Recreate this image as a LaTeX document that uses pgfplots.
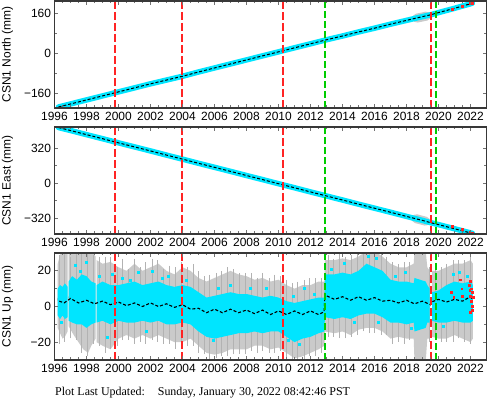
\documentclass[border=0pt]{standalone}
\usepackage{fontspec}
\setmainfont{Liberation Sans}
\newfontfamily\footfont{Liberation Serif}
\usepackage{pgfplots}
\pgfplotsset{compat=1.18}

\definecolor{ptcyan}{RGB}{0,229,255}
\definecolor{bargray}{RGB}{202,202,202}
\definecolor{bardark}{RGB}{178,178,178}
\definecolor{vred}{RGB}{255,36,36}
\definecolor{vgreen}{RGB}{0,204,0}
\definecolor{frame}{RGB}{56,56,56}

\pgfplotsset{
  gpsax/.style={
    scale only axis, width=432bp, height=107bp,
    xmin=1996, xmax=2023,
    xtick={1996,1998,...,2022}, minor x tick num=3,
    minor y tick num=1,
    tick align=inside, axis on top, clip marker paths=true,
    major tick length=4bp, minor tick length=2.5bp,
    axis line style={frame, line width=1.8bp},
    tick style={black!55, line width=0.7bp},
    tick label style={font=\fontsize{12}{14}\selectfont, /pgf/number format/assume math mode=true},
    xticklabel style={/pgf/number format/1000 sep={}, yshift=-1bp},
    y label style={at={(axis description cs:-0.109,0.5)}, anchor=center, font=\fontsize{12}{14}\selectfont},
  },
  redv/.style={vred, line width=1.8bp, dash pattern=on 8bp off 3bp},
  greenv/.style={vgreen, line width=1.7bp, dash pattern=on 7bp off 3bp},
  model/.style={black, line width=1bp, dash pattern=on 3bp off 2bp},
  redpt/.style={only marks, mark=square*, mark size=0.9bp, vred},
}

% event lines (earthquakes red, equipment changes green)
\newcommand{\eventlines}[2]{%
  \addplot[redv] coordinates {(1999.79,#2) (1999.79,#1)};
  \addplot[redv] coordinates {(2003.98,#2) (2003.98,#1)};
  \addplot[redv] coordinates {(2010.26,#2) (2010.26,#1)};
  \addplot[greenv] coordinates {(2012.89,#2) (2012.89,#1)};
  \addplot[redv] coordinates {(2019.51,#2) (2019.51,#1)};
  \addplot[greenv] coordinates {(2019.83,#2) (2019.83,#1)};
}

\begin{document}
\begin{tikzpicture}
\useasboundingbox (0,0) rectangle (488bp,400bp);

% ---------------- North ----------------
\begin{axis}[gpsax, at={(54.5bp,292bp)}, anchor=south west,
  ymin=-217, ymax=208, ytick={-160,0,160}, yticklabels={−160,0,160},
  ylabel={CSN1 North (mm)}]
  \addplot[bargray, line width=9bp, line cap=round] coordinates {(2018.65,140) (2019.25,148)};
  \addplot[ptcyan, line width=5.5bp, line cap=round] coordinates {
    (1996.25,-213) (1997,-201) (1998,-185) (1999,-169) (2000,-153) (2001,-137)
    (2002,-121) (2003,-106) (2004,-91) (2005,-74) (2006,-58) (2007,-42)
    (2008,-26) (2009,-10) (2010,6) (2011,22) (2012,38) (2013,54) (2014,69)
    (2015,85) (2016,100) (2017,116) (2018,131) (2019,146) (2019.5,153)
    (2020,162) (2021,179) (2022,197) (2022.12,200)};
  \addplot[model] coordinates {
    (1996.25,-213) (1997,-201) (1998,-185) (1999,-169) (2000,-153) (2001,-137)
    (2002,-121) (2003,-106) (2004,-91) (2005,-74) (2006,-58) (2007,-42)
    (2008,-26) (2009,-10) (2010,6) (2011,22) (2012,38) (2013,54) (2014,69)
    (2015,85) (2016,100) (2017,116) (2018,131) (2019,146) (2019.5,153)
    (2020,162) (2021,179) (2022,197) (2022.12,200)};
  \addplot[redpt] coordinates {(2020.85,175) (2021.5,186) (2021.95,197) (2022.0,198)
    (2022.05,199) (2022.1,200) (2022.13,201)};
  \eventlines{-217}{208}
\end{axis}

% ---------------- East ----------------
\begin{axis}[gpsax, at={(54.5bp,166bp)}, anchor=south west,
  ymin=-464, ymax=515, ytick={-320,0,320}, yticklabels={−320,0,320},
  ylabel={CSN1 East (mm)}]
  \addplot[bargray, line width=9bp, line cap=round] coordinates {(2018.6,-324) (2019.2,-347)};
  \addplot[ptcyan, line width=5.5bp, line cap=round] coordinates {
    (1996.25,510) (1997,483) (1998,445) (1999,408) (2000,370) (2001,333)
    (2002,296) (2003,258) (2004,221) (2005,183) (2006,146) (2007,109)
    (2008,71) (2009,34) (2010,-4) (2011,-41) (2012,-79) (2013,-116)
    (2014,-153) (2015,-191) (2016,-228) (2017,-265) (2018,-303) (2019,-340)
    (2019.5,-360) (2020,-378) (2021,-416) (2022,-454) (2022.12,-458)};
  \addplot[model] coordinates {
    (1996.25,510) (1997,483) (1998,445) (1999,408) (2000,370) (2001,333)
    (2002,296) (2003,258) (2004,221) (2005,183) (2006,146) (2007,109)
    (2008,71) (2009,34) (2010,-4) (2011,-41) (2012,-79) (2013,-116)
    (2014,-153) (2015,-191) (2016,-228) (2017,-265) (2018,-303) (2019,-340)
    (2019.5,-360) (2020,-378) (2021,-416) (2022,-454) (2022.12,-458)};
  \addplot[redpt] coordinates {(2020.85,-393) (2021.5,-418) (2021.95,-450) (2022.0,-452)
    (2022.05,-454) (2022.1,-456) (2022.13,-458)};
  \eventlines{-464}{515}
\end{axis}

% ---------------- Up ----------------
\begin{axis}[gpsax, at={(54.5bp,40bp)}, anchor=south west,
  ymin=-30, ymax=30, ytick={-20,0,20}, yticklabels={−20,0,20},
  ylabel={CSN1 Up (mm)}]
  % error-bar envelopes (gray) and point spread (cyan), per data segment
  \addplot[fill=bargray, draw=none] coordinates {
    (1996.2,24) (1996.35,29) (1996.5,31) (1996.65,31) (1996.82,30)
    (1996.82,-14) (1996.65,-17) (1996.5,-18) (1996.35,-15) (1996.2,-12)} -- cycle;
  \addplot[fill=bargray, draw=none] coordinates {
    (1996.88,30) (1997.2,31) (1997.5,31) (1997.8,31) (1998.1,31) (1998.3,31) (1998.57,28)
    (1998.57,-18) (1998.3,-22) (1998.1,-26) (1997.8,-24) (1997.5,-20) (1997.2,-16) (1996.88,-11)} -- cycle;
  \addplot[fill=bargray, draw=none] coordinates {
    (1998.63,26) (1999.0,24) (1999.5,25) (2000.0,22) (2000.5,20) (2001.0,24) (2001.5,20)
    (2002.0,22) (2002.5,24) (2003.0,20) (2003.5,18) (2004.0,22) (2004.5,20) (2005.0,16)
    (2005.5,14) (2006.0,16) (2006.5,18) (2007.0,20) (2007.5,18) (2008.0,17) (2008.5,15)
    (2009.0,16) (2009.5,14) (2010.0,15) (2010.5,12) (2011.0,10) (2011.5,12) (2012.0,12)
    (2012.5,14) (2012.87,14) (2012.9,26) (2013.5,26) (2014.0,27) (2014.5,26) (2015.0,28)
    (2015.5,31) (2016.0,31) (2016.5,28) (2017.0,24) (2017.5,22) (2018.0,22) (2018.45,24)
    (2018.5,31) (2019.2,31) (2019.3,22) (2019.45,20)
    (2019.45,-18) (2019.3,-18) (2019.2,-31) (2018.5,-31) (2018.45,-18) (2018.0,-18)
    (2017.5,-17) (2017.0,-18) (2016.5,-14) (2016.0,-12) (2015.5,-12) (2015.0,-13)
    (2014.5,-16) (2014.0,-14) (2013.5,-15) (2012.9,-14) (2012.87,-22) (2012.5,-24)
    (2012.0,-26) (2011.5,-28) (2011.0,-29) (2010.5,-26) (2010.0,-23) (2009.5,-24)
    (2009.0,-22) (2008.5,-22) (2008.0,-24) (2007.5,-24) (2007.0,-24) (2006.5,-26)
    (2006.0,-27) (2005.5,-26) (2005.0,-22) (2004.5,-18) (2004.0,-20) (2003.5,-20)
    (2003.0,-18) (2002.5,-16) (2002.0,-18) (2001.5,-16) (2001.0,-18) (2000.5,-16)
    (2000.0,-18) (1999.5,-24) (1999.0,-22) (1998.63,-20)} -- cycle;
  \addplot[fill=bargray, draw=none] coordinates {
    (2019.6,20) (2020.0,20) (2020.5,22) (2021.0,24) (2021.5,24) (2022.0,26) (2022.15,24)
    (2022.15,-18) (2022.0,-20) (2021.5,-18) (2021.0,-16) (2020.5,-18) (2020.0,-18) (2019.6,-17)} -- cycle;

  % individual error bars that stick out of the envelope
  \addplot[only marks, mark=none, bardark,
    error bars/.cd, y dir=both, y explicit,
    error bar style={bardark, line width=0.6bp},
    error mark options={bardark, mark size=1.6bp, line width=0.6bp}]
    coordinates {
    (1996.3,4) +- (0,24)   (1996.6,6) +- (0,25)   (1997.0,5) +- (0,22)
    (1997.35,8) +- (0,26)  (1997.7,3) +- (0,28)   (1998.05,2) +- (0,29)
    (1998.4,4) +- (0,24)   (1998.8,3) +- (0,24)   (1999.15,1) +- (0,26)
    (1999.5,2) +- (0,25)   (1999.9,0) +- (0,21)   (2000.25,4) +- (0,22)
    (2000.6,1) +- (0,19)   (2001.0,3) +- (0,23)   (2001.35,1) +- (0,20)
    (2001.7,2) +- (0,22)   (2002.1,4) +- (0,22)   (2002.45,3) +- (0,22)
    (2002.8,0) +- (0,20)   (2003.2,1) +- (0,21)   (2003.55,-1) +- (0,22)
    (2003.9,2) +- (0,22)   (2004.3,0) +- (0,21)   (2004.65,1) +- (0,22)
    (2005.0,-3) +- (0,22)  (2005.35,-5) +- (0,21) (2005.7,-6) +- (0,23)
    (2006.1,-5) +- (0,23)  (2006.45,-4) +- (0,23) (2006.8,-3) +- (0,24)
    (2007.2,-3) +- (0,23)  (2007.55,-4) +- (0,22) (2007.9,-4) +- (0,22)
    (2008.3,-3) +- (0,21)  (2008.65,-5) +- (0,20) (2009.0,-3) +- (0,21)
    (2009.4,-5) +- (0,20)  (2009.75,-4) +- (0,21) (2010.1,-4) +- (0,20)
    (2010.5,-7) +- (0,21)  (2010.85,-9) +- (0,21) (2011.2,-8) +- (0,21)
    (2011.6,-8) +- (0,22)  (2011.95,-6) +- (0,21) (2012.3,-6) +- (0,21)
    (2012.7,-5) +- (0,20)  (2013.1,6) +- (0,22)   (2013.45,5) +- (0,21)
    (2013.8,6) +- (0,23)   (2014.2,5) +- (0,22)   (2014.55,6) +- (0,22)
    (2014.9,7) +- (0,22)   (2015.3,9) +- (0,22)   (2015.65,9) +- (0,23)
    (2016.0,9) +- (0,23)   (2016.4,7) +- (0,22)   (2016.75,6) +- (0,21)
    (2017.1,2) +- (0,22)   (2017.5,2) +- (0,21)   (2017.85,2) +- (0,22)
    (2018.2,3) +- (0,21)   (2019.4,1) +- (0,20)   (2019.8,1) +- (0,19)
    (2020.15,1) +- (0,20)  (2020.5,2) +- (0,21)   (2020.9,3) +- (0,22)
    (2021.25,4) +- (0,21)  (2021.6,3) +- (0,22)   (2022.0,4) +- (0,24)};

  \addplot[fill=ptcyan, draw=none] coordinates {
    (1996.2,10) (1996.35,12) (1996.5,11) (1996.65,13) (1996.82,11)
    (1996.82,-6) (1996.65,-7) (1996.5,-5) (1996.35,-7) (1996.2,-5)} -- cycle;
  \addplot[fill=ptcyan, draw=none] coordinates {
    (1996.88,14) (1997.1,17) (1997.4,15) (1997.7,18) (1998.0,17) (1998.3,14) (1998.57,13)
    (1998.57,-9) (1998.3,-10) (1998.0,-12) (1997.7,-10) (1997.4,-10) (1997.1,-9) (1996.88,-8)} -- cycle;
  \addplot[fill=ptcyan, draw=none] coordinates {
    (1998.63,12) (1999.0,14) (1999.5,12) (2000.0,12) (2000.5,13) (2001.0,14) (2001.5,12)
    (2002.0,13) (2002.5,14) (2003.0,12) (2003.5,11) (2004.0,12) (2004.5,11) (2005.0,8)
    (2005.5,5) (2006.0,6) (2006.5,7) (2007.0,8) (2007.5,7) (2008.0,7) (2008.5,6)
    (2009.0,5) (2009.5,6) (2010.0,5) (2010.5,3) (2011.0,2) (2011.5,3) (2012.0,4)
    (2012.5,5) (2012.87,5) (2012.9,18) (2013.5,18) (2014.0,19) (2014.5,18) (2015.0,20)
    (2015.5,24) (2016.0,22) (2016.5,20) (2017.0,15) (2017.5,14) (2018.0,14) (2018.45,13)
    (2018.5,16) (2019.2,14) (2019.3,12) (2019.45,10)
    (2019.45,-9) (2019.3,-9) (2019.2,-12) (2018.5,-14) (2018.45,-9) (2018.0,-10)
    (2017.5,-9) (2017.0,-9) (2016.5,-6) (2016.0,-4) (2015.5,-4) (2015.0,-5) (2014.5,-7)
    (2014.0,-6) (2013.5,-7) (2012.9,-6) (2012.87,-14) (2012.5,-15) (2012.0,-17)
    (2011.5,-18) (2011.0,-20) (2010.5,-17) (2010.0,-14) (2009.5,-14) (2009.0,-15)
    (2008.5,-14) (2008.0,-15) (2007.5,-15) (2007.0,-16) (2006.5,-17) (2006.0,-18)
    (2005.5,-17) (2005.0,-14) (2004.5,-10) (2004.0,-9) (2003.5,-10) (2003.0,-10)
    (2002.5,-8) (2002.0,-9) (2001.5,-8) (2001.0,-9) (2000.5,-9) (2000.0,-8)
    (1999.5,-10) (1999.0,-8) (1998.63,-9)} -- cycle;
  \addplot[fill=ptcyan, draw=none] coordinates {
    (2019.6,8) (2020.0,9) (2020.5,12) (2021.0,14) (2021.5,13) (2022.0,14) (2022.15,12)
    (2022.15,-8) (2022.0,-9) (2021.5,-9) (2021.0,-8) (2020.5,-9) (2020.0,-9) (2019.6,-8)} -- cycle;

  % scattered outlying daily positions
  \addplot[only marks, mark=square*, mark size=1bp, ptcyan] coordinates {
    (1997.3,23) (1997.95,25) (1998.8,17) (1999.3,-17) (1999.6,18) (2000.2,16)
    (2001.2,19) (2001.7,-14) (2002.1,20) (2003.1,17) (2005.9,-19) (2006.5,-15)
    (2007.0,12) (2009.2,10) (2010.6,-19) (2011.3,-21) (2011.6,10) (2014.1,24)
    (2015.6,28) (2016.1,27) (2016.2,-9) (2017.9,19) (2020.9,18) (2021.3,19) (2021.8,17)
    (1996.4,-9) (1997.6,20) (2000.7,15) (2002.7,16) (2004.2,15) (2006.2,10) (2008.2,10)
    (2010.9,6) (2012.2,7) (2013.3,21) (2014.7,-9) (2017.3,17) (2018.3,-12) (2020.3,-11)};

  \addplot[black, line width=1.1bp, dash pattern=on 3bp off 2bp] coordinates {
    (1996.3,3) (1996.6,2) (1997.0,4.5) (1997.5,2) (1998.0,3.5) (1998.5,1.5) (1999.0,3)
    (1999.5,1) (2000.0,2.5) (2000.5,0.5) (2001.0,2) (2001.5,0) (2002.0,2) (2002.5,0)
    (2003.0,1.5) (2003.5,-0.5) (2004.0,1) (2004.5,-1.5) (2005.0,-1) (2005.5,-3.5)
    (2006.0,-1.5) (2006.5,-3.5) (2007.0,-1.5) (2007.5,-3.5) (2008.0,-2) (2008.5,-4)
    (2009.0,-2) (2009.5,-4.5) (2010.0,-2.5) (2010.5,-4.5) (2011.0,-2.5) (2011.5,-4.5)
    (2012.0,-2.5) (2012.5,-4.5) (2012.85,-3) (2012.9,7) (2013.0,6) (2013.5,4) (2014.0,5.5)
    (2014.5,3.5) (2015.0,5.5) (2015.5,3.5) (2016.0,5) (2016.5,3) (2017.0,3.5) (2017.5,2)
    (2018.0,3.5) (2018.5,1.5) (2019.0,3) (2019.5,1) (2019.55,2.5) (2020.0,4) (2020.5,2.5)
    (2021.0,4) (2021.5,3) (2022.0,5.5) (2022.1,4)};

  \addplot[redpt] coordinates {
    (2020.8,8) (2020.95,5) (2021.35,15) (2021.45,10) (2021.5,6) (2021.9,12) (2021.95,9)
    (2022.0,14) (2022.0,6) (2022.05,10) (2022.05,3) (2022.1,8) (2022.1,0) (2022.12,-2)
    (2022.15,5) (2021.98,-3)};
  \eventlines{-30}{30}
\end{axis}

\node[anchor=base west, font=\footfont\fontsize{12}{14}\selectfont, inner sep=0pt]
  at (55bp,5bp) {Plot Last Updated:\hspace{13bp}Sunday, January 30, 2022 08:42:46 PST};
\end{tikzpicture}
\end{document}
